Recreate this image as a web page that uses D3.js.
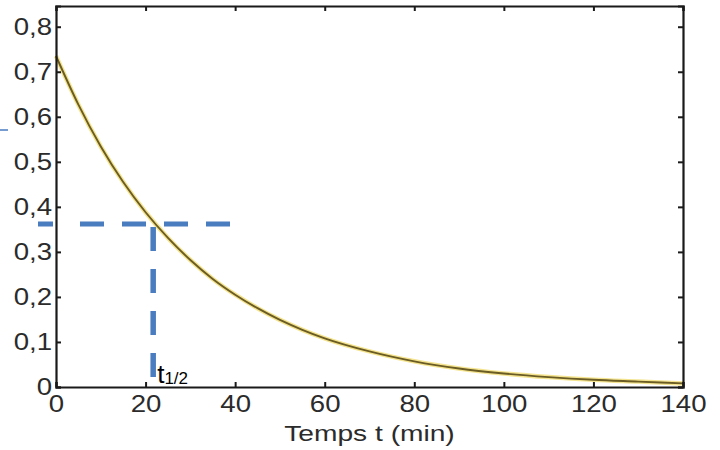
<!DOCTYPE html>
<html>
<head>
<meta charset="utf-8">
<script src="https://cdn.jsdelivr.net/npm/d3@7"></script>
<style>
  html, body { margin: 0; padding: 0; background: #fff; }
  svg { display: block; }
</style>
</head>
<body>
<script>
// concentration readings (min, value)
const times = [0, 5, 10, 15, 20, 25, 30, 35, 40, 45, 50, 55, 60, 70, 80, 90, 100, 110, 120, 130, 140];
const conc = [0.735, 0.627, 0.534, 0.455, 0.388, 0.331, 0.282, 0.240, 0.205, 0.175, 0.149, 0.127, 0.108,
              0.079, 0.057, 0.041, 0.030, 0.022, 0.016, 0.012, 0.008];
const xTicks = [0, 20, 40, 60, 80, 100, 120, 140];
const yTicks = [0, 0.1, 0.2, 0.3, 0.4, 0.5, 0.6, 0.7, 0.8];
const halfLife = 21.7;
const halfConc = 0.362;
const xLabel = "Temps t (min)";

const width = 720, height = 450;
const margin = { left: 56, right: 37, top: 6, bottom: 63 };

const x = d3.scaleLinear().domain([0, 140]).range([margin.left, width - margin.right]);
const y = d3.scaleLinear().domain([0, 0.846]).range([height - margin.bottom, margin.top]);

const svg = d3.select("body").append("svg")
    .attr("width", width)
    .attr("height", height)
    .style("font-family", "'Liberation Sans', Arial, sans-serif");

const fmt = d => d3.format(".1f")(d).replace(".", ",").replace(/^0,0$/, "0");
const sx = 1.2;

// curve, yellow halo then dark core
const line = d3.line()
    .x((d, i) => x(times[i]))
    .y(d => y(d))
    .curve(d3.curveMonotoneX);

svg.append("path")
    .datum(conc)
    .attr("fill", "none")
    .attr("stroke", "#efd860")
    .attr("stroke-opacity", 0.7)
    .attr("stroke-width", 4.5)
    .attr("d", line);

svg.append("path")
    .datum(conc)
    .attr("fill", "none")
    .attr("stroke", "#6a5c24")
    .attr("stroke-width", 1.9)
    .attr("d", line);

// axes
const xAxis = svg.append("g")
    .attr("transform", `translate(0,${y(0)})`)
    .call(d3.axisBottom(x).tickValues(xTicks).tickSize(-5).tickPadding(9).tickFormat(d => d));
xAxis.selectAll("text")
    .attr("transform", `scale(${sx},1)`);

const yAxis = svg.append("g")
    .attr("transform", `translate(${x(0)},0)`)
    .call(d3.axisLeft(y).tickValues(yTicks).tickSize(-5).tickPadding(4).tickFormat(fmt));
yAxis.selectAll("text")
    .attr("x", -4 / sx)
    .attr("transform", `scale(${sx},1)`);

svg.append("g")
    .attr("transform", `translate(0,${y.range()[1]})`)
    .call(d3.axisTop(x).tickValues(xTicks).tickSize(-5).tickFormat(""));
svg.append("g")
    .attr("transform", `translate(${x.range()[1]},0)`)
    .call(d3.axisRight(y).tickValues(yTicks).tickSize(-5).tickFormat(""));

svg.selectAll(".domain, .tick line")
    .attr("stroke", "#1a1a1a")
    .attr("stroke-width", 2);
svg.selectAll(".tick text")
    .attr("fill", "#2b2b2b")
    .style("font-size", "23px");
svg.selectAll(".domain").attr("stroke-width", 2.2);

// x axis title
svg.append("text")
    .attr("transform", `translate(${(x.range()[0] + x.range()[1]) / 2},${height - 9}) scale(1.28,1)`)
    .attr("text-anchor", "middle")
    .attr("fill", "#2b2b2b")
    .style("font-size", "22px")
    .text(xLabel);

// half-life guides
const blue = "#4a7cc0";
svg.append("line")
    .attr("x1", 38).attr("x2", x(40) + 3)
    .attr("y1", y(halfConc)).attr("y2", y(halfConc))
    .attr("stroke", blue)
    .attr("stroke-width", 5)
    .attr("stroke-dasharray", "15 27 24 18 24 18 24 18 24 18 24");

svg.append("line")
    .attr("x1", x(halfLife)).attr("x2", x(halfLife))
    .attr("y1", y(halfConc) + 3).attr("y2", y(0) - 10)
    .attr("stroke", blue)
    .attr("stroke-width", 5.5)
    .attr("stroke-dasharray", "24 18");

// small stray stub at the left edge
svg.append("line")
    .attr("x1", 0).attr("x2", 8)
    .attr("y1", 130).attr("y2", 130)
    .attr("stroke", blue)
    .attr("stroke-width", 1.5);

const lab = svg.append("text")
    .attr("x", x(halfLife) + 4)
    .attr("y", 383)
    .attr("fill", "#000")
    .style("font-size", "26px");
lab.append("tspan").text("t");
lab.append("tspan")
    .attr("dy", 1)
    .style("font-size", "17px")
    .text("1/2");
</script>
</body>
</html>
